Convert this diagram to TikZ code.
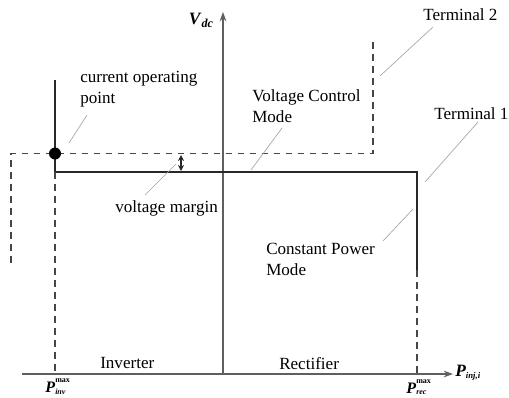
\documentclass[tikz,border=0pt]{standalone}
\usepackage{amsmath}
\usepackage{fontspec}
\setmainfont{Liberation Serif}
\usetikzlibrary{arrows.meta}
\definecolor{AxisGray}{RGB}{95,95,95}
\definecolor{LineDark}{RGB}{40,40,40}
\definecolor{DashGray}{RGB}{70,70,70}
\definecolor{LeadGray}{RGB}{165,165,165}
\newcommand{\bi}[1]{\textbf{\textit{#1}}}
\newcommand{\sm}[1]{{\scriptscriptstyle #1}}
\newcommand{\pmaxlbl}[1]{$\bi{P}^{\sm{\textbf{max}\rule[-3pt]{0pt}{0pt}}}_{\sm{\bi{#1}}}$}

\begin{document}
\begin{tikzpicture}[x=0.75pt,y=-0.75pt,
    axis/.style={-{Stealth[length=7pt,width=5pt]},AxisGray,line width=1.1pt},
    term/.style={LineDark,line width=0.9pt},
    dashln/.style={DashGray,line width=0.9pt,dash pattern=on 5pt off 4pt},
    leader/.style={LeadGray,line width=0.5pt},
    lbl/.style={inner sep=0pt,font=\fontsize{12.8}{15.8}\selectfont,align=left},
    sym/.style={inner sep=0pt,font=\fontsize{13}{15}\selectfont}]

    \useasboundingbox (0,0) rectangle (509,397);

    % axes
    \coordinate (xs) at (22,374);
    \coordinate (xe) at (453,374);
    \coordinate (o)  at (223,374);
    \coordinate (ye) at (223,12);
    \draw[axis] (xs)--(xe);
    \draw[axis] (o)--(ye);

    % terminal 1 characteristic
    \coordinate (a1) at (55,80);   \coordinate (a2) at (55,172);
    \coordinate (a3) at (417,172); \coordinate (a4) at (417,270);
    \coordinate (a5) at (55,374);  \coordinate (a6) at (417,374);
    \draw[term] (a1)--(a2)--(a3)--(a4);
    \draw[dashln] (a2)--(a5);
    \draw[dashln] (a4)--(a6);

    % terminal 2 characteristic
    \coordinate (b1) at (11,263);  \coordinate (b2) at (11,153.5);
    \coordinate (b3) at (373,153.5); \coordinate (b4) at (373,42);
    \draw[dashln] (b1)--(b2)--(b3)--(b4);

    % operating point and margin
    \node[circle,fill=black,minimum size=9pt,inner sep=0pt] (op) at (55,153.5) {};
    \coordinate (m1) at (181,155); \coordinate (m2) at (181,171);
    \draw[{Stealth[length=4.5pt,width=4.5pt]}-{Stealth[length=4.5pt,width=4.5pt]},LineDark,line width=0.8pt] (m1)--(m2);

    % labels
    \node[sym,anchor=east] (vdc) at (214,20) {$\bi{V}_{\bi{dc}}$};
    \node[sym,anchor=west] (pinj) at (455,373) {$\bi{P}_{\sm{\bi{inj,i}}}$};
    \node[sym,font=\fontsize{12}{14}\selectfont] (pinv) at (58,387) {\pmaxlbl{inv}};
    \node[sym,font=\fontsize{12}{14}\selectfont] (prec) at (419,387) {\pmaxlbl{rec}};

    \node[lbl,anchor=west] (cop) at (80,89.5) {current operating\\point};
    \node[lbl,anchor=west] (vcm) at (252,106) {Voltage Control\\Mode};
    \node[lbl,anchor=west] (t2)  at (423,15) {Terminal 2};
    \node[lbl,anchor=west] (t1)  at (434,114) {Terminal 1};
    \node[lbl,anchor=west] (vm)  at (115,208) {voltage margin};
    \node[lbl,anchor=west] (cpm) at (266,259) {Constant Power\\Mode};
    \node[lbl,anchor=west] (inv) at (100,363) {Inverter};
    \node[lbl,anchor=west] (rec) at (279,364) {Rectifier};

    % leader lines
    \coordinate (c1) at (87,115);  \coordinate (c2) at (69,143);
    \coordinate (v1) at (282,128); \coordinate (v2) at (251,170);
    \coordinate (s1) at (433,27);  \coordinate (s2) at (380,76);
    \coordinate (r1) at (478,122); \coordinate (r2) at (425,182);
    \coordinate (g1) at (176,164); \coordinate (g2) at (145,195);
    \coordinate (p1) at (383,241); \coordinate (p2) at (413,209);
    \foreach \u/\v in {c1/c2,v1/v2,s1/s2,r1/r2,g1/g2,p1/p2} { \draw[leader] (\u)--(\v); }
\end{tikzpicture}
\end{document}
